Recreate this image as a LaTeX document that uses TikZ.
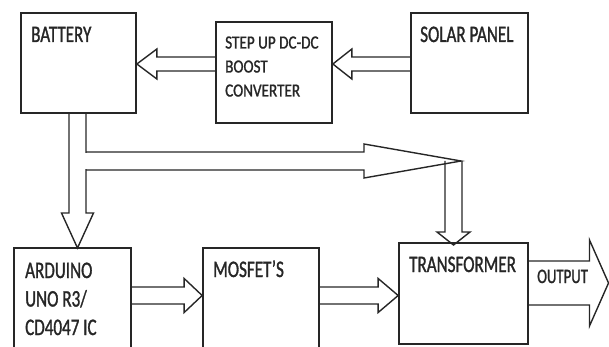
\documentclass[tikz,border=0pt]{standalone}
\usepackage{fontspec}
\usetikzlibrary{calc}
\newfontfamily\labfont[FakeStretch=0.72,FakeBold=1.2]{Carlito}
\newfontfamily\smallfont[FakeStretch=0.82,FakeBold=1.2]{Carlito}
\tikzset{
  shaftw/.store in=\asw, headw/.store in=\ahw, headl/.store in=\ahl,
  shaftw=7pt, headw=15pt, headl=19pt,
  box/.style={draw=black!85, line width=1.7pt, rectangle, inner sep=0pt},
  lab/.style={anchor=base west, inner sep=0pt, font=\labfont\fontsize{23.7}{28}\selectfont, text=black!85},
  slab/.style={anchor=base west, inner sep=0pt, font=\smallfont\fontsize{18.5}{23}\selectfont, text=black!85},
  hollow/.style={draw=black!85, line width=1.4pt, line join=miter, to path={
    ($(\tikztotarget)!\ahl!(\tikztostart)$) coordinate (hh)
    ($(\tikztostart)!\asw!90:(\tikztotarget)$)
    -- ($(hh)!\asw!90:(\tikztotarget)$)
    -- ($(hh)!\ahw!90:(\tikztotarget)$)
    -- (\tikztotarget)
    -- ($(hh)!\ahw!-90:(\tikztotarget)$)
    -- ($(hh)!\asw!-90:(\tikztotarget)$)
    -- ($(\tikztostart)!\asw!-90:(\tikztotarget)$)
  }}
}
\begin{document}
\begin{tikzpicture}[x=1pt,y=-1pt]
\useasboundingbox (0,0) rectangle (609,347);
\clip (0,0) rectangle (609,347);
% boxes
\node[box, minimum width=115pt, minimum height=100pt] (batt) at (78.5,63) {};
\node[box, minimum width=116pt, minimum height=101pt] (step) at (274,72.5) {};
\node[box, minimum width=117pt, minimum height=100pt] (solar) at (469.5,63) {};
\node[box, minimum width=117pt, minimum height=160pt] (ard) at (72.5,328) {};
\node[box, minimum width=116pt, minimum height=160pt] (mos) at (261,328) {};
\node[box, minimum width=129pt, minimum height=101pt] (trans) at (463.5,293.5) {};
% texts
\node[lab] (tbatt) at (31,42) {BATTERY};
\node[lab] (tsolar) at (420,42) {SOLAR PANEL};
\node[slab] (tstep1) at (225,48.5) {STEP UP DC-DC};
\node[slab] (tstep2) at (225,72.5) {BOOST};
\node[slab] (tstep3) at (225,96.5) {CONVERTER};
\node[lab] (tard1) at (25,278) {ARDUINO};
\node[lab] (tard2) at (25,306.5) {UNO R3/};
\node[lab] (tard3) at (25,335) {CD4047 IC};
\node[lab] (tmos) at (213,277) {MOSFET’S};
\node[lab] (ttrans) at (409,272) {TRANSFORMER};
% connector points
\coordinate (solW) at (solar.west |- 0,64);
\coordinate (stepE) at (step.east |- 0,64);
\coordinate (stepW) at (step.west |- 0,64);
\coordinate (battE) at (batt.east |- 0,64);
\coordinate (ardE) at (ard.east |- 0,295.5);
\coordinate (mosW) at (mos.west |- 0,295.5);
\coordinate (mosE) at (mos.east |- 0,295.5);
\coordinate (transW) at (trans.west |- 0,295.5);
\coordinate (transE) at (trans.east |- 0,283);
\coordinate (outTip) at (608.5,283);
\coordinate (battS) at (77.5,113);
\coordinate (ardN) at (77.5,248);
\coordinate (branch) at (86,161);
\coordinate (junction) at (461,161);
\coordinate (dropTop) at (453.5,161);
\coordinate (transN) at (453.5,245);
% arrows
\draw[hollow, shaftw=7pt, headw=15pt, headl=19pt] (solW) to (stepE);
\draw[hollow, shaftw=7pt, headw=15pt, headl=20pt] (stepW) to (battE);
\draw[hollow, shaftw=8.5pt, headw=17pt, headl=18pt] (ardE) to (mosW);
\draw[hollow, shaftw=8.5pt, headw=17pt, headl=20pt] (mosE) to (transW);
\draw[hollow, shaftw=22pt, headw=43pt, headl=19pt] (transE) to (outTip);
\draw[hollow, shaftw=8.5pt, headw=16pt, headl=35pt] (battS) to (ardN);
\draw[white, line width=2pt] (86,153) -- (86,169);
\draw[hollow, shaftw=9pt, headw=17pt, headl=97pt] (branch) to (junction);
\draw[hollow, shaftw=8.5pt, headw=16.5pt, headl=13pt] (dropTop) to (transN);
\node[lab, font=\labfont\fontsize{20.5}{24}\selectfont] (tout) at (537,283) {OUTPUT};
\end{tikzpicture}
\end{document}
